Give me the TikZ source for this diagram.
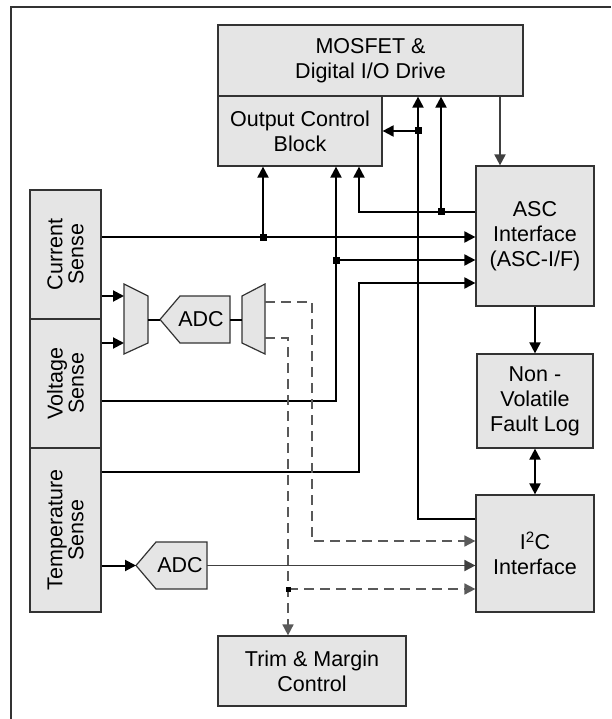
\documentclass[tikz,border=0pt]{standalone}
\usepackage{fontspec}
\setmainfont{Liberation Sans}
\usetikzlibrary{arrows.meta, calc}

\begin{document}
\begin{tikzpicture}[x=1pt, y=-1pt,
	shp/.style={draw=black!80, fill=black!10, line width=1.2pt},
	box/.style={shp, align=center, inner sep=0pt, font=\fontsize{21.5}{25}\selectfont},
	sense/.style={box, rotate=90, minimum height=71pt, font=\fontsize{21.5}{21}\selectfont},
	txt/.style={inner sep=0pt, font=\fontsize{21.5}{25}\selectfont},
	wire/.style={line width=2pt},
	arr/.style={wire, -{Triangle[length=11pt, width=11pt]}},
	darr/.style={wire, {Triangle[length=11pt, width=11pt]}-{Triangle[length=11pt, width=11pt]}},
	garr/.style={arr, black!75},
	dline/.style={line width=1.6pt, black!65, dash pattern=on 10pt off 6pt, -{Triangle[length=11pt, width=11pt]}},
	jn/.style={fill, inner sep=0pt, minimum size=7pt}]
	\useasboundingbox (0,0) rectangle (611,719);
	\draw [line width=1.2pt, black!80] (11,719) -- (11,7) -- (611,7);
	% blocks
	\node [box, minimum width=305pt, minimum height=71pt] (mos) at (370.5,60.5) {MOSFET \&\\Digital I/O Drive};
	\node [box, minimum width=164pt, minimum height=70pt] (ocb) at (300,131) {Output Control\\Block};
	\node [box, minimum width=118pt, minimum height=140pt] (asc) at (535,236) {ASC\\Interface\\(ASC-I/F)};
	\node [box, minimum width=116pt, minimum height=94pt] (nvfl) at (535,401) {Non -\\Volatile\\Fault Log};
	\node [box, minimum width=118pt, minimum height=117pt] (i2c) at (535,553.5) {I\textsuperscript{2}C\\Interface};
	\node [box, minimum width=188pt, minimum height=70pt] (trim) at (312,671) {Trim \& Margin\\Control};
	\node [sense, minimum width=129pt] (cur) at (65.5,254.5) {Current\\Sense};
	\node [sense, minimum width=129pt] (volt) at (65.5,383.5) {Voltage\\Sense};
	\node [sense, minimum width=164pt] (temp) at (65.5,530) {Temperature\\Sense};
	% mux and adc
	\coordinate (muxAa) at (124,296);
	\coordinate (muxAb) at (124,343);
	\coordinate (muxAout) at (148,319.5);
	\coordinate (adcA) at (160,319.5);
	\coordinate (adcAout) at (230,319.5);
	\coordinate (muxBin) at (242,319.5);
	\coordinate (adcB) at (136,565.5);
	\coordinate (adcBout) at (207,565.5);
	\draw [shp] (124,284) -- (148,296) -- (148,343) -- (124,354) -- cycle;
	\draw [shp] (242,296) -- (265,284) -- (265,354) -- (242,343) -- cycle;
	\draw [shp] (adcA) -- ++(20,-23.5) -- ++(50,0) -- ++(0,47) -- ++(-50,0) -- cycle;
	\draw [shp] (adcB) -- ++(20,-23.5) -- ++(51,0) -- ++(0,47) -- ++(-51,0) -- cycle;
	\node [txt] (adcAtxt) at ($(adcA)+(41,0)$) {ADC};
	\node [txt] (adcBtxt) at ($(adcB)+(44,0)$) {ADC};
	% junctions
	\coordinate (jA) at (263,237);
	\coordinate (jB) at (336,260);
	\coordinate (jC) at (418,131);
	\coordinate (jD) at (441,212);
	\coordinate (jE) at (288,589);
	\coordinate (cV) at (336,401);
	\coordinate (cT) at (359,472);
	\coordinate (cI) at (418,519);
	\coordinate (cD) at (312,541);
	% connectors
	\draw [arr] (cur.south |- jA) -- (asc.west |- jA);
	\draw [arr] (jA) -- (ocb.south -| jA);
	\draw [arr] (volt.south |- cV) -- (cV) -- (ocb.south -| cV);
	\draw [arr] (jB) -- (asc.west |- jB);
	\draw [arr] (temp.south |- cT) -- (cT) -- (cT |- 0,283) -- (asc.west |- 0,283);
	\draw [arr] (asc.west |- jD) -- (jD -| cT) -- (ocb.south -| cT);
	\draw [arr] (jD) -- (mos.south -| jD);
	\draw [arr] (i2c.west |- cI) -- (cI) -- (mos.south -| cI);
	\draw [arr] (jC) -- (ocb.east |- jC);
	\draw [garr] (mos.south -| 500,0) -- (asc.north -| 500,0);
	\draw [arr] (asc.south) -- (nvfl.north);
	\draw [darr] (nvfl.south) -- (i2c.north);
	\draw [arr] (cur.south |- muxAa) -- (muxAa);
	\draw [arr] (volt.south |- muxAb) -- (muxAb);
	\draw [wire] (muxAout) -- (adcA);
	\draw [wire] (adcAout) -- (muxBin);
	\draw [arr] (temp.south |- adcB) -- (adcB);
	\draw [dline] (265,302) -- (cD |- 0,302) -- (cD) -- (i2c.west |- cD);
	\draw [dline] (265,338) -- (jE |- 0,338) -- (trim.north -| jE);
	\draw [dline] (jE) -- (i2c.west |- jE);
	\draw [garr, line width=1.8pt] (adcBout) -- (i2c.west |- adcBout);
	\foreach \j in {jA, jB, jC, jD}
		\node [jn] at (\j) {};
	\node [jn, minimum size=5pt] at (jE) {};
\end{tikzpicture}
\end{document}
